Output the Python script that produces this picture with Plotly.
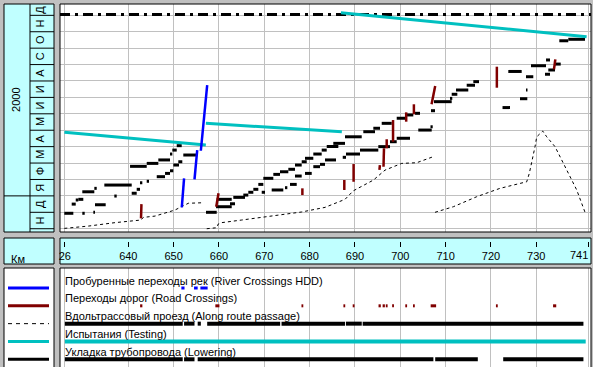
import plotly.graph_objects as go

W, H = 593, 367

# ---------------- data ----------------
# time axis: month index, 0 = start of November 1999
month_labels = ["Н", "Д", "Я", "Ф", "М", "А", "М", "И", "И", "А", "С", "О", "Н", "Д"]
year_label = "2000"
year_start = 2                      # January 2000
time_range = [-0.2, 13.69]
km_range = [624.93, 742.07]

km_ticks = [626, 640, 650, 660, 670, 680, 690, 700, 710, 720, 730, 741.6]
km_tick_text = ["26", "640", "650", "660", "670", "680", "690", "700", "710", "720", "730", ""]
last_tick_text = "741"
axis_unit = "Км"

status_m = 13.05                    # status date line

# Testing (Испытания)
test_km = [625.9, 657.1, None, 657.1, 687.1, None, 686.9, 741.1]
test_m = [5.87, 5.10, None, 6.42, 5.91, None, 13.16, 11.70]

# River crossings HDD
hdd_km_lo = [651.8, 654.6, 656.0]
hdd_km_hi = [652.3, 655.2, 657.4]
hdd_m_lo = [1.30, 3.01, 4.75]
hdd_m_hi = [3.07, 4.79, 8.75]

# Road crossings
road_km_lo = [642.8, 659.4, 678.4, 687.65, 689.7, 695.4, 696.3, 697.0, 698.4, 701.3, 703.0, 706.9, 721.3, 733.9]
road_km_hi = [642.9, 659.9, 678.4, 687.65, 689.7, 695.5, 696.4, 697.0, 698.4, 701.3, 703.0, 707.7, 721.3, 734.2]
road_m_lo = [0.63, 1.34, 2.05, 2.36, 2.86, 3.58, 3.78, 4.90, 5.30, 6.52, 6.97, 7.58, 8.59, 9.71]
road_m_hi = [1.50, 2.16, 2.46, 2.97, 3.94, 3.88, 4.90, 5.45, 6.62, 7.09, 7.58, 8.69, 9.87, 10.32]

# Along route passage (dashed)
ar1_km = [625.88, 631.18, 637.07, 642.80, 643.31, 645.89, 650.30, 653.24, 656.19]
ar1_m = [0.02, 0.16, 0.37, 0.53, 0.69, 0.77, 1.14, 1.55, 1.58]
ar2_km = [657.30, 659.50, 659.85, 660.60, 665.02, 670.88, 678.25, 683.39, 687.81, 689.64,
          694.05, 696.63, 700.31, 703.62, 707.28]
ar2_m = [0.00, 0.06, 0.29, 0.37, 0.53, 0.73, 1.02, 1.30, 1.79, 2.31, 2.96, 3.57, 3.98, 4.02, 4.39]
ar3_km = [707.66, 711.70, 716.86, 722.00, 727.89, 728.46, 729.72, 730.10, 731.42, 732.30,
          734.13, 736.71, 738.92, 740.75]
ar3_m = [1.00, 1.34, 1.95, 2.46, 2.86, 3.37, 5.00, 5.60, 5.95, 5.60, 5.00, 3.58, 2.36, 1.00]

# Lowering (Укладка) progress segments: start km, end km, month
low_km0 = [625.88, 629.85, 632.28, 627.51, 628.40, 628.97, 632.65, 629.85, 632.50, 634.71,
           636.91, 640.75, 641.85, 642.58, 644.06, 646.27, 648.10, 649.20, 649.93, 651.03,
           640.38, 644.06, 646.62, 649.20, 649.71, 650.68, 652.13, 657.14, 659.35, 662.43,
           659.50, 663.16, 665.37, 666.47, 667.58, 668.68, 669.78, 671.99, 673.46, 675.30,
           676.77, 678.25, 678.98, 680.81, 682.66, 683.77, 685.22, 687.80, 691.84, 694.05,
           695.90, 699.21, 701.04, 703.25, 669.43, 671.63, 674.57, 675.67, 676.77, 678.98,
           680.81, 682.29, 683.39, 687.30, 688.02, 691.11, 695.15, 697.73, 699.21, 703.97,
           706.66, 706.77, 707.44, 710.97, 711.34, 712.29, 714.65, 716.11, 722.55, 726.41,
           727.73, 723.83, 727.73, 728.83, 732.15, 731.92, 732.65, 734.13, 735.08, 737.06]
low_km1 = [627.87, 630.38, 632.65, 628.40, 628.97, 630.07, 635.01, 632.50, 633.03, 640.75,
           637.44, 641.85, 642.58, 643.09, 644.57, 648.10, 649.20, 649.93, 651.18, 651.91,
           644.06, 646.62, 649.20, 649.71, 650.68, 651.78, 655.09, 659.50, 662.81, 663.54,
           662.81, 665.74, 666.47, 667.58, 668.68, 669.78, 671.99, 673.46, 675.30, 676.77,
           678.25, 679.36, 680.81, 682.66, 683.77, 686.33, 687.80, 691.49, 694.42, 695.53,
           698.11, 701.04, 702.87, 704.35, 670.16, 674.19, 675.08, 677.15, 678.25, 680.46,
           682.29, 683.39, 685.82, 688.02, 691.11, 695.15, 697.73, 699.21, 702.14, 706.93,
           707.15, 707.66, 711.34, 711.47, 712.58, 715.00, 716.48, 717.36, 724.20, 728.02,
           728.06, 726.78, 729.34, 732.15, 733.03, 733.03, 734.13, 735.39, 737.06, 740.75]
low_m = [0.94, 0.94, 1.00, 1.50, 1.75, 1.79, 1.46, 2.25, 2.46, 2.66,
         1.99, 2.16, 2.40, 2.80, 2.89, 3.17, 3.37, 3.53, 3.88, 4.08,
         3.80, 3.98, 4.19, 4.55, 4.79, 5.06, 4.49, 1.00, 1.34, 1.52,
         1.79, 1.91, 2.05, 2.22, 2.40, 2.70, 3.07, 3.31, 3.47, 3.62,
         3.88, 4.08, 4.29, 4.55, 4.79, 5.01, 5.20, 5.60, 5.91, 6.12,
         6.42, 6.73, 6.93, 7.03, 2.22, 2.36, 2.50, 2.70, 3.21, 3.37,
         3.78, 3.92, 4.19, 4.35, 4.55, 4.79, 5.00, 5.30, 5.51, 6.01,
         6.21, 7.19, 7.74, 7.94, 8.19, 8.45, 8.74, 8.96, 7.38, 7.92,
         8.45, 9.58, 9.26, 9.93, 10.28, 9.41, 9.67, 10.03, 11.45, 11.54]

# Legend-panel coverage rows
along_cov_km0 = [626.0, 652.3, 655.3, 657.4, 673.8, 688.0, 691.7]
along_cov_km1 = [652.0, 654.6, 656.0, 673.5, 687.8, 691.5, 740.4]
test_cov_km0 = [626.0]
test_cov_km1 = [740.9]
lower_cov_km0 = [626.0, 652.3, 655.3, 707.7, 722.7]
lower_cov_km1 = [652.0, 654.6, 707.3, 717.1, 740.4]

legend_labels = [
    "Пробуренные переходы рек (River Crossings HDD)",
    "Переходы дорог (Road Crossings)",
    "Вдольтрассовый проезд (Along route passage)",
    "Испытания (Testing)",
    "Укладка трубопровода (Lowering)",
]

# ---------------- styles ----------------
FONT = "Liberation Sans, Arial, sans-serif"
GRID = "#c0c0c0"
CYAN_BG = "#c0ffff"
C_TEST = "#00c0c0"
C_ROAD = "#800000"
C_HDD = "#0000ff"


def px(x):
    return x / W


def py(y):
    return 1 - y / H


def hsegs(k0, k1, m):
    xs, ys = [], []
    for a, b, c in zip(k0, k1, m):
        xs += [a, b, None]
        ys += [c, c, None]
    return xs, ys


def lsegs(k0, k1, m0, m1):
    xs, ys = [], []
    for a, b, c, d in zip(k0, k1, m0, m1):
        xs += [a, b, None]
        ys += [c, d, None]
    return xs, ys


fig = go.Figure()


def add(x, y, color, width, dash=None, xa="x", ya="y"):
    fig.add_trace(go.Scatter(x=x, y=y, mode="lines", xaxis=xa, yaxis=ya,
                             line=dict(color=color, width=width, dash=dash),
                             hoverinfo="skip", showlegend=False, connectgaps=False))


# main chart
add(km_range, [status_m, status_m], "black", 3, "10px,5px,3px,5px")
add(ar1_km + [None] + ar2_km + [None] + ar3_km, ar1_m + [None] + ar2_m + [None] + ar3_m,
    "black", 1, "3px,3px")
lx, ly = hsegs(low_km0, low_km1, low_m)
add(lx, ly, "black", 3)
add(test_km, test_m, C_TEST, 3)
rx, ry = lsegs(road_km_lo, road_km_hi, road_m_lo, road_m_hi)
add(rx, ry, C_ROAD, 2.5)
bx, by = lsegs(hdd_km_lo, hdd_km_hi, hdd_m_lo, hdd_m_hi)
add(bx, by, C_HDD, 2.5)

# legend panel rows
hx, hy = hsegs([k - 0.1 for k in hdd_km_lo], [k + 0.1 for k in hdd_km_hi], [0] * len(hdd_km_lo))
add(hx, hy, C_HDD, 3, xa="x2", ya="y2")
rx2, ry2 = hsegs([k - 0.2 for k in road_km_lo], [k + 0.2 for k in road_km_hi], [1] * len(road_km_lo))
add(rx2, ry2, C_ROAD, 3, xa="x2", ya="y2")
ax_, ay_ = hsegs(along_cov_km0, along_cov_km1, [2] * len(along_cov_km0))
add(ax_, ay_, "black", 4, xa="x2", ya="y2")
tx, ty = hsegs(test_cov_km0, test_cov_km1, [3] * len(test_cov_km0))
add(tx, ty, C_TEST, 4, xa="x2", ya="y2")
wx, wy = hsegs(lower_cov_km0, lower_cov_km1, [4] * len(lower_cov_km0))
add(wx, wy, "black", 4, xa="x2", ya="y2")

# ---------------- shapes ----------------
shapes = []


def rect(x0, y0, x1, y1, fill=None, layer="below"):
    shapes.append(dict(type="rect", xref="paper", yref="paper",
                       x0=px(x0), x1=px(x1), y0=py(y1), y1=py(y0),
                       fillcolor=fill if fill else "rgba(0,0,0,0)",
                       line=dict(color="black", width=1), layer=layer))


rect(4, 4, 54, 232, CYAN_BG)
rect(4, 238, 54, 264, CYAN_BG)
rect(60, 238, 591, 264, CYAN_BG)
rect(4, 268, 54, 368, "white")
rect(60, 4, 591, 232, None, "above")
rect(60, 268, 591, 368, None, "above")

shapes.append(dict(type="line", xref="paper", yref="paper", x0=px(30), x1=px(30),
                   y0=py(4), y1=py(232), line=dict(color="black", width=1)))
for k in range(len(month_labels)):
    shapes.append(dict(type="line", xref="paper", yref="y",
                       x0=px(4) if k == year_start else px(30), x1=px(54), y0=k, y1=k,
                       line=dict(color="black", width=1)))

# legend samples
sample_styles = [(C_HDD, 3, None), (C_ROAD, 3, None), ("black", 1, "4px,4px"),
                 (C_TEST, 3, None), ("black", 3, None)]
for r, (c, w, d) in enumerate(sample_styles):
    shapes.append(dict(type="line", xref="paper", yref="y2", x0=px(8), x1=px(49), y0=r, y1=r,
                       line=dict(color=c, width=w, dash=d)))

# ---------------- annotations ----------------
ann = []
for k, lab in enumerate(month_labels):
    yc = k + 0.5 if k + 1 <= time_range[1] else (k + time_range[1]) / 2
    ann.append(dict(text=lab, x=px(40), y=yc, xref="paper", yref="y", showarrow=False,
                    xanchor="center", yanchor="middle", textangle=-90, font=dict(size=11)))
ann.append(dict(text=year_label, x=px(16), y=(year_start + time_range[1]) / 2, xref="paper", yref="y",
                xanchor="center", yanchor="middle", showarrow=False, textangle=-90, font=dict(size=11)))
ann.append(dict(text=axis_unit, x=px(18), y=py(259), xref="paper", yref="paper", showarrow=False,
                xanchor="center", yanchor="middle", font=dict(size=11)))
ann.append(dict(text=last_tick_text, x=km_ticks[-1] + 0.3, y=py(255), xref="x", yref="paper",
                xanchor="right", yanchor="middle", showarrow=False, font=dict(size=11)))
for r, lab in enumerate(legend_labels):
    ann.append(dict(text=lab, x=px(63), y=r - 0.42, xref="paper", yref="y2", xanchor="left",
                    yanchor="middle", showarrow=False, font=dict(size=11)))

fig.update_layout(
    width=W, height=H, margin=dict(l=0, r=0, t=0, b=0, pad=0),
    paper_bgcolor="#c0c0c0", plot_bgcolor="white", showlegend=False,
    font=dict(family=FONT, size=11, color="black"),
    xaxis=dict(domain=[px(60), px(591)], range=km_range, tickvals=km_ticks, ticktext=km_tick_text,
               anchor="free", position=py(241), side="bottom", ticks="outside", ticklen=5,
               tickcolor="black", tickwidth=1, showgrid=True, gridcolor=GRID, gridwidth=1,
               zeroline=False, showline=False, tickfont=dict(size=11), fixedrange=True),
    yaxis=dict(domain=[py(232), py(4)], range=time_range, tickvals=list(range(14)),
               showticklabels=False, ticks="", showgrid=True, gridcolor=GRID, zeroline=False,
               fixedrange=True),
    xaxis2=dict(domain=[px(60), px(591)], range=km_range, tickvals=km_ticks, showticklabels=False,
                ticks="", showgrid=True, gridcolor=GRID, zeroline=False, anchor="y2", fixedrange=True),
    yaxis2=dict(domain=[0, py(268)], range=[4.432, -1.122], showticklabels=False, ticks="",
                showgrid=False, zeroline=False, anchor="x2", fixedrange=True),
    shapes=shapes, annotations=ann,
)

fig.write_html("out.html", config={"displayModeBar": False},
               post_script=["document.body.style.margin='0';document.body.style.overflow='hidden';"])
